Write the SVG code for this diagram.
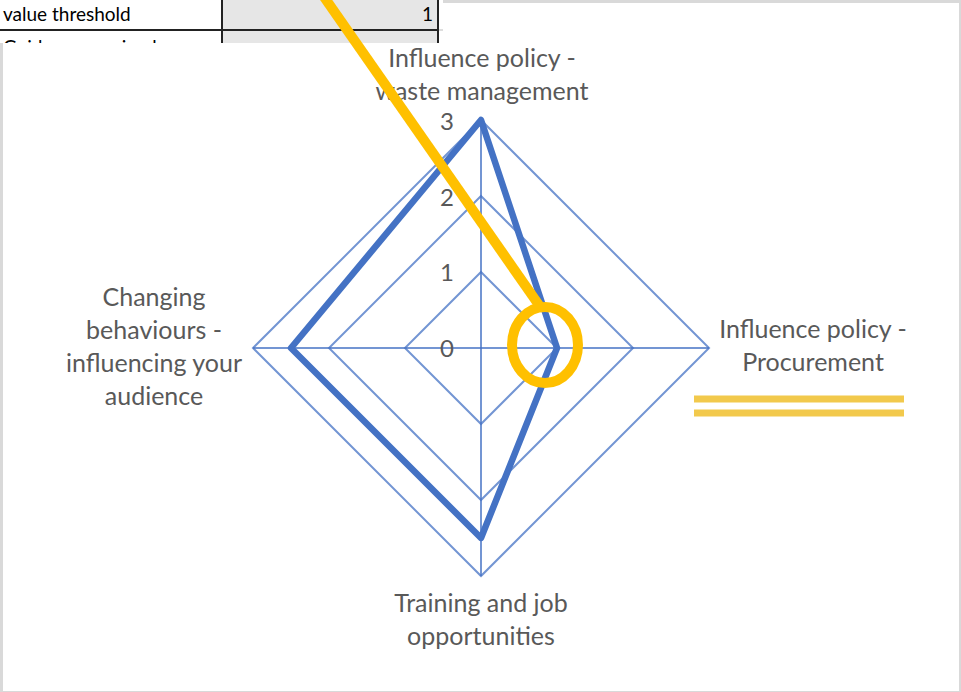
<svg xmlns="http://www.w3.org/2000/svg" width="961" height="692" viewBox="0 0 961 692">
<defs>
<style>
.lbl{font-family:Lato,"Open Sans","Liberation Sans",sans-serif;font-size:25px;fill:#595959;text-anchor:middle}
.tick{font-family:Lato,"Open Sans","Liberation Sans",sans-serif;font-size:24px;fill:#595959;text-anchor:end}
.cell{font-family:Lato,"Liberation Sans",sans-serif;font-size:19px;fill:#000}
.grid{fill:none;stroke:#4472C4;stroke-opacity:0.75;stroke-width:2}
.series{fill:none;stroke:#4472C4;stroke-width:6.5;stroke-linejoin:round}
.hl{stroke:#FFC000;fill:none;stroke-width:10}
.uline{stroke:#F2C94C;stroke-width:7}
</style>
<clipPath id="row2"><rect x="0" y="31" width="222" height="12"/></clipPath>
</defs>
<rect x="0" y="0" width="961" height="692" fill="#D9D9D9"/>
<rect x="3" y="3" width="956" height="688" fill="#FFFFFF"/>
<g id="spreadsheet">
<rect x="0" y="0" width="443" height="43" fill="#FFFFFF"/>
<rect x="223" y="0" width="214" height="43" fill="#E6E6E6"/>
<line x1="0" y1="30" x2="437" y2="30" stroke="#222" stroke-width="2"/>
<line x1="437" y1="30" x2="443" y2="30" stroke="#BBB" stroke-width="1"/>
<line x1="222" y1="0" x2="222" y2="43" stroke="#222" stroke-width="2"/>
<line x1="438" y1="0" x2="438" y2="43" stroke="#222" stroke-width="2"/>
<text class="cell" x="3" y="21">value threshold</text>
<text class="cell" x="433" y="21" text-anchor="end">1</text>
<text class="cell" x="3" y="54" clip-path="url(#row2)">Guidance received</text>
<rect x="0" y="43" width="3" height="649" fill="#D9D9D9"/>
</g>
<g id="chart-grid">
<polygon class="grid" points="481,272 557,348 481,424 405,348"/>
<polygon class="grid" points="481,196 633,348 481,500 329,348"/>
<polygon class="grid" points="481,120 709,348 481,576 253,348"/>
<line class="grid" x1="481" y1="120" x2="481" y2="576"/>
<line class="grid" x1="253" y1="348" x2="709" y2="348"/>
</g>
<g id="ticks">
<text class="tick" x="454" y="130">3</text>
<text class="tick" x="454" y="206">2</text>
<text class="tick" x="454" y="281">1</text>
<text class="tick" x="454" y="357">0</text>
</g>
<g id="node-top">
<text class="lbl" x="482" y="67">Influence policy -</text>
<text class="lbl" x="482" y="100">waste management</text>
</g>
<g id="node-right">
<text class="lbl" x="813" y="338">Influence policy -</text>
<text class="lbl" x="813" y="371">Procurement</text>
</g>
<g id="node-bottom">
<text class="lbl" x="481" y="612">Training and job</text>
<text class="lbl" x="481" y="645">opportunities</text>
</g>
<g id="node-left">
<text class="lbl" x="154" y="306">Changing</text>
<text class="lbl" x="154" y="339">behaviours -</text>
<text class="lbl" x="154" y="372">influencing your</text>
<text class="lbl" x="154" y="405">audience</text>
</g>
<g id="series">
<polygon class="series" points="481,120 557,348 481,538 291,348"/>
</g>
<g id="connectors">
<line class="hl" x1="322" y1="-6" x2="541" y2="308"/>
<ellipse class="hl" cx="545" cy="345" rx="33" ry="38"/>
<line class="uline" x1="694" y1="399" x2="904" y2="399"/>
<line class="uline" x1="694" y1="413" x2="904" y2="413"/>
</g>
</svg>
